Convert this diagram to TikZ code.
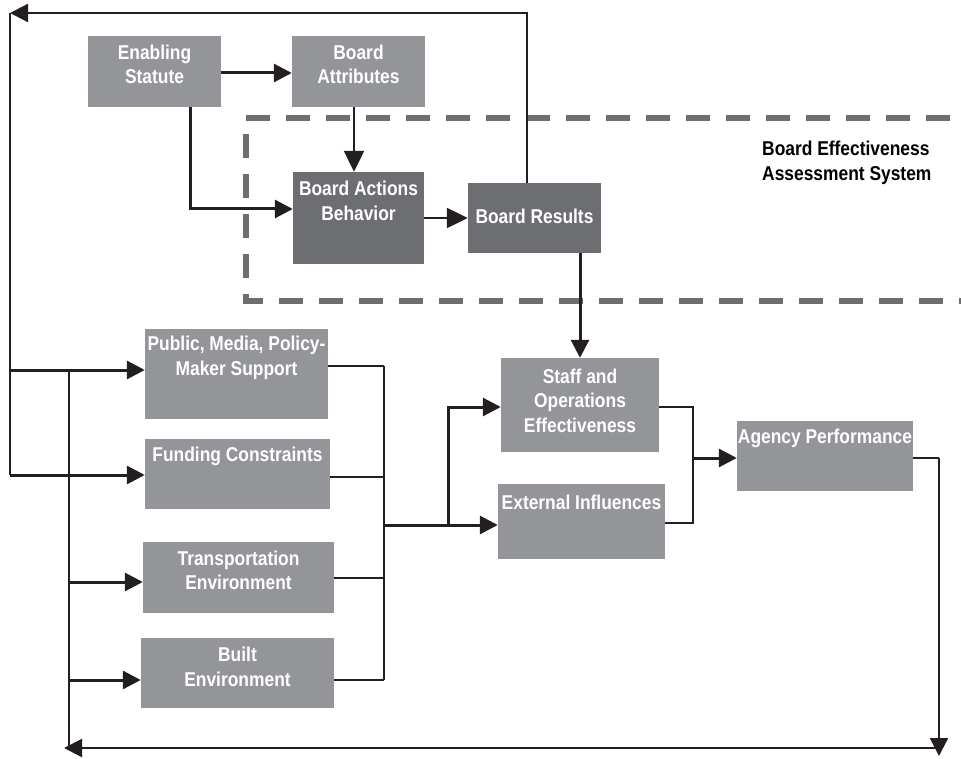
\documentclass[tikz,border=0pt]{standalone}
\usepackage{fontspec}
\setmainfont{Liberation Sans}[FakeStretch=0.87]
\usetikzlibrary{arrows.meta, calc}

\tikzset{
    box/.style={fill=boxGrey, draw=none, inner sep=0pt},
    darkbox/.style={fill=boxDark, draw=none, inner sep=0pt},
    boxtext/.style={text=white, align=center, inner sep=0pt,
        font=\bfseries\fontsize{20}{24.5}\selectfont},
    conn/.style={line width=2.2pt, draw=lineColour},
    stub/.style={line width=1.6pt, draw=lineColour},
    heavy/.style={line width=3pt, draw=lineColour},
    arr/.style={-{Triangle[length=18pt, width=18pt]}},
    bigarr/.style={-{Triangle[length=21pt, width=20pt]}},
}

\begin{document}
\begin{tikzpicture}[x=1pt, y=-1pt]
    % Colours
    \definecolor{boxGrey}{HTML}{939598}
    \definecolor{boxDark}{HTML}{6D6E71}
    \definecolor{lineColour}{HTML}{231F20}

    % Fix the page size
    \useasboundingbox (0,0) rectangle (961,759);
    \clip (0,0) rectangle (961,759);

    % Dashed assessment system frame
    \draw[boxDark, line width=6.5pt, dash pattern=on 24pt off 16pt]
        (990,118) -- (246,118) -- (246,301) -- (990,301);
    \node[anchor=north west, align=left, inner sep=0pt,
        font=\bfseries\fontsize{20}{24.5}\selectfont] (sysT) at (762,141)
        {Board Effectiveness\\Assessment System};

    % Board boxes
    \node[box, minimum width=133, minimum height=71] (ena) at (154.5,71.5) {};
    \node[boxtext] (enaT) at (154.5,64.5) {Enabling\\Statute};
    \node[box, minimum width=133, minimum height=71] (att) at (358.5,71.5) {};
    \node[boxtext] (attT) at (358.5,64.5) {Board\\Attributes};
    \node[darkbox, minimum width=131, minimum height=92] (act) at (358.5,218) {};
    \node[boxtext] (actT) at (358.5,201) {Board Actions\\Behavior};
    \node[darkbox, minimum width=133, minimum height=70] (res) at (534.5,218) {};
    \node[boxtext] (resT) at (534.5,216) {Board Results};

    % Environment boxes
    \node[box, minimum width=183, minimum height=90] (pub) at (236.5,374) {};
    \node[boxtext] (pubT) at (236.5,358) {Public, Media, Policy-\\Maker Support};
    \node[box, minimum width=185, minimum height=70] (fund) at (237.5,474) {};
    \node[boxtext] (fundT) at (237.5,456) {Funding Constraints};
    \node[box, minimum width=191, minimum height=71] (trans) at (238.5,577.5) {};
    \node[boxtext] (transT) at (238.5,570.5) {Transportation\\Environment};
    \node[box, minimum width=193, minimum height=70] (built) at (237.5,673) {};
    \node[boxtext] (builtT) at (237.5,667) {Built\\Environment};

    % Agency boxes
    \node[box, minimum width=158, minimum height=94] (staff) at (580,405) {};
    \node[boxtext] (staffT) at (580,400.5) {Staff and\\Operations\\Effectiveness};
    \node[box, minimum width=167, minimum height=75] (ext) at (581.5,521.5) {};
    \node[boxtext] (extT) at (581.5,502) {External Influences};
    \node[box, minimum width=176, minimum height=70] (agency) at (825,456) {};
    \node[boxtext] (agencyT) at (825,438) {Agency Performance};

    % Free corner points
    \coordinate (topL) at (10,13);
    \coordinate (railA) at (10,475);
    \coordinate (railPub) at (10,370);
    \coordinate (railB) at (69,370);
    \coordinate (railBEnd) at (69,748);
    \coordinate (bPub) at (384,366);
    \coordinate (bFund) at (384,477);
    \coordinate (bTrans) at (384,578);
    \coordinate (bBuilt) at (384,680);
    \coordinate (bMid) at (384,525);
    \coordinate (bSplit) at (448,525);
    \coordinate (cTop) at (693,407);
    \coordinate (cMid) at (693,458);
    \coordinate (cBot) at (693,523);
    \coordinate (agR) at (939,458);
    \coordinate (agEnd) at (939,756);
    \coordinate (botR) at (939,748);
    \coordinate (botL) at (64,748);

    % Board connectors
    \draw[heavy, arr] (ena.east |- 0,73) -- (att.west |- 0,73);
    \draw[conn, bigarr] ([xshift=-4.5]att.south) -- ([xshift=-4.5]att.south |- act.north);
    \draw[heavy, arr] (ena.south -| 190,0) |- (act.west |- 0,209);
    \draw[conn, bigarr] (act.east) -- (res.west);
    \draw[heavy, arr] ([xshift=45.5]res.south) -- ([xshift=45.5]res.south |- staff.north);

    % Feedback to the left rail
    \draw[conn, arr] ([xshift=-7.5]res.north) |- (topL);
    \draw[conn] (topL) -- (railA);
    \draw[heavy, arr] (railPub) -- (railPub -| pub.west);
    \draw[heavy, arr] (railA) -- (railA -| fund.west);

    % Inner rail
    \draw[conn] (railB) -- (railBEnd);
    \draw[heavy, arr] (railB |- 0,582) -- (trans.west |- 0,582);
    \draw[heavy, arr] (railB |- 0,680) -- (built.west |- 0,680);

    % Environment bracket
    \draw[stub] (pub.east |- bPub) -- (bPub);
    \draw[stub] (fund.east |- bFund) -- (bFund);
    \draw[stub] (trans.east |- bTrans) -- (bTrans);
    \draw[stub] (built.east |- bBuilt) -- (bBuilt);
    \draw[conn] (bPub) -- (bBuilt);
    \draw[heavy, arr] (bMid) -- (bMid -| ext.west);
    \draw[heavy, arr] (bSplit) |- (staff.west |- cTop);

    % Agency bracket
    \draw[stub] (staff.east |- cTop) -- (cTop) -- (cBot) -- (ext.east |- cBot);
    \draw[heavy, arr] (cMid) -- (cMid -| agency.west);

    % Loop back along the bottom
    \draw[stub] (agency.east |- agR) -- (agR);
    \draw[conn, arr] (agR) -- (agEnd);
    \draw[conn, arr] (botR) -- (botL);

\end{tikzpicture}
\end{document}
